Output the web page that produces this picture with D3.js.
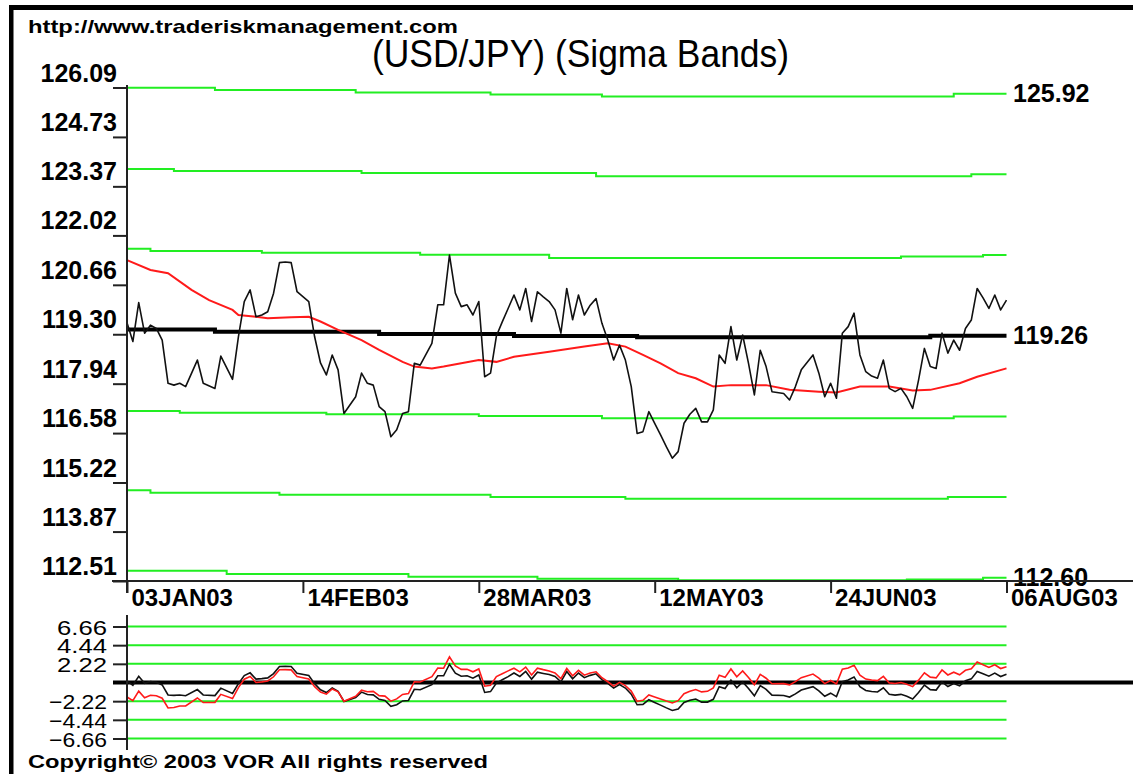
<!DOCTYPE html>
<html lang="en">
<head>
<meta charset="UTF-8" />
<title>(USD/JPY) (Sigma Bands)</title>
<script src="https://cdn.jsdelivr.net/npm/d3@7"></script>
<style>
  body { margin: 0; background: #fff; }
  svg { display: block; font-family: "Liberation Sans", Arial, sans-serif; }
</style>
</head>
<body>
<svg id="chart" width="1133" height="774"></svg>
<script>
// ---- data (x = trading day since 03JAN03) ----
const xLabels = ["03JAN03", "14FEB03", "28MAR03", "12MAY03", "24JUN03", "06AUG03"];
const xTickDays = [0, 30, 60, 90, 120, 150];
const yTicks = [112.51, 113.87, 115.22, 116.58, 117.94, 119.30, 120.66, 122.02, 123.37, 124.73, 126.09];
const oscTicks = [6.66, 4.44, 2.22, -2.22, -4.44, -6.66];

const days = [
  0, 1, 2, 3, 4, 5, 6, 7, 8, 9,
  10, 12, 13, 15, 16, 18, 19, 20, 21, 22,
  23, 24, 25, 26, 27, 28, 29, 31, 32, 33,
  34, 35, 36, 37, 39, 40, 41, 42, 43, 44,
  45, 46, 47, 48, 49, 50, 52, 53, 54, 55,
  56, 57, 58, 59, 60, 61, 62, 63, 64, 65,
  66, 67, 68, 69, 70, 71, 72, 73, 74, 75,
  76, 77, 78, 79, 80, 81, 82, 83, 84, 85,
  86, 87, 88, 89, 90, 91, 92, 93, 94, 95,
  96, 97, 98, 99, 100, 101, 102, 103, 104, 105,
  106, 107, 108, 109, 110, 112, 113, 114, 115, 117,
  118, 119, 120, 121, 122, 123, 124, 125, 126, 127,
  128, 129, 130, 131, 132, 133, 134, 135, 136, 137,
  138, 139, 140, 141, 142, 143, 144, 145, 146, 147,
  148, 149, 150
];

const price = [
  119.62, 119.10, 120.17, 119.33, 119.55, 119.46, 119.14, 117.95, 117.90, 117.95,
  117.86, 118.59, 117.95, 117.81, 118.70, 118.06, 119.23, 120.20, 120.52, 119.78,
  119.83, 119.92, 120.43, 121.27, 121.29, 121.27, 120.47, 120.20, 119.23, 118.51,
  118.18, 118.73, 118.32, 117.12, 117.58, 118.23, 117.95, 117.90, 117.31, 117.17,
  116.48, 116.67, 117.12, 117.17, 118.50, 118.45, 119.05, 120.11, 120.11, 121.48,
  120.43, 120.06, 120.11, 119.83, 120.20, 118.13, 118.23, 119.25, 119.64, 120.01,
  120.38, 119.97, 120.56, 119.65, 120.47, 120.33, 120.20, 119.97, 119.33, 120.56,
  119.70, 120.38, 119.83, 120.10, 120.28, 119.60, 119.14, 118.59, 119.00, 118.59,
  117.86, 116.57, 116.62, 117.17, 116.85, 116.53, 116.20, 115.89, 116.07, 116.85,
  117.10, 117.26, 116.89, 116.89, 117.22, 118.73, 118.50, 119.51, 118.59, 119.28,
  118.50, 117.63, 118.86, 118.41, 117.72, 117.67, 117.49, 117.86, 118.32, 118.73,
  118.23, 117.58, 117.95, 117.54, 119.33, 119.51, 119.88, 118.73, 118.27, 118.15,
  118.09, 118.59, 117.81, 117.72, 117.81, 117.58, 117.26, 118.04, 118.91, 118.41,
  118.36, 119.33, 118.78, 119.14, 118.86, 119.46, 119.69, 120.56, 120.30, 120.01,
  120.38, 119.97, 120.24
];

// lower panel: distance from the mean line and from the red average
const oscMean = [
  0.19, -0.33, 0.74, -0.10, 0.12, 0.03, -0.29, -1.48, -1.53, -1.48,
  -1.57, -0.84, -1.48, -1.56, -0.67, -1.31, -0.14, 0.83, 1.15, 0.41,
  0.46, 0.55, 1.06, 1.90, 1.92, 1.90, 1.10, 0.83, -0.14, -0.86,
  -1.19, -0.64, -1.05, -2.25, -1.79, -1.14, -1.42, -1.47, -2.00, -2.14,
  -2.83, -2.64, -2.19, -2.14, -0.81, -0.86, -0.26, 0.80, 0.80, 2.17,
  1.12, 0.75, 0.80, 0.52, 0.89, -1.18, -1.08, -0.06, 0.33, 0.70,
  1.13, 0.72, 1.31, 0.40, 1.22, 1.08, 0.95, 0.72, 0.08, 1.31,
  0.45, 1.13, 0.58, 0.85, 1.03, 0.35, -0.11, -0.66, -0.25, -0.66,
  -1.39, -2.65, -2.60, -2.05, -2.37, -2.69, -3.02, -3.33, -3.15, -2.37,
  -2.12, -1.96, -2.33, -2.33, -2.00, -0.49, -0.72, 0.29, -0.63, 0.06,
  -0.72, -1.59, -0.36, -0.81, -1.50, -1.55, -1.73, -1.36, -0.90, -0.49,
  -0.99, -1.64, -1.27, -1.68, 0.11, 0.29, 0.66, -0.49, -0.95, -1.07,
  -1.13, -0.63, -1.41, -1.50, -1.41, -1.64, -1.96, -1.18, -0.31, -0.85,
  -0.90, 0.07, -0.48, -0.12, -0.40, 0.20, 0.43, 1.30, 1.04, 0.75,
  1.12, 0.71, 0.98
];

const oscAvg = [
  -1.72, -2.17, -1.03, -1.81, -1.52, -1.58, -1.87, -3.03, -2.97, -2.80,
  -2.78, -1.84, -2.38, -2.36, -1.41, -1.91, -0.60, 0.39, 0.72, 0.00,
  0.07, 0.18, 0.68, 1.52, 1.53, 1.50, 0.70, 0.42, -0.49, -1.14,
  -1.39, -0.77, -1.10, -2.23, -1.63, -0.91, -1.10, -1.06, -1.56, -1.62,
  -2.22, -1.95, -1.42, -1.31, 0.09, 0.06, 0.69, 1.72, 1.70, 3.04,
  1.96, 1.56, 1.58, 1.27, 1.61, -0.44, -0.33, 0.71, 1.05, 1.38,
  1.70, 1.27, 1.83, 0.90, 1.70, 1.53, 1.38, 1.13, 0.46, 1.67,
  0.79, 1.44, 0.87, 1.12, 1.27, 0.57, 0.09, -0.43, 0.01, -0.37,
  -1.02, -2.24, -2.11, -1.48, -1.73, -1.97, -2.21, -2.43, -2.16, -1.33,
  -1.04, -0.83, -1.12, -1.05, -0.64, 0.86, 0.61, 1.61, 0.69, 1.38,
  0.60, -0.27, 0.96, 0.51, -0.15, -0.13, -0.28, 0.10, 0.57, 1.00,
  0.51, -0.13, 0.24, -0.16, 1.59, 1.73, 2.06, 0.87, 0.41, 0.29,
  0.23, 0.73, -0.05, -0.11, 0.00, -0.20, -0.49, 0.28, 1.15, 0.64,
  0.55, 1.49, 0.90, 1.23, 0.91, 1.45, 1.62, 2.43, 2.12, 1.79,
  2.11, 1.66, 1.88
];

// red moving average
const maDays = [0, 4, 7, 11, 14, 18, 19, 22, 24, 28, 31, 33, 36, 40, 43, 47, 49, 52, 54, 57,
  60, 63, 66, 72, 78, 82, 85, 88, 91, 94, 97, 100, 103, 109, 113, 118, 121, 125, 130, 134,
  137, 142, 145, 150];
const maVals = [121.34, 121.07, 120.98, 120.52, 120.24, 119.97, 119.83, 119.78, 119.74, 119.77,
  119.78, 119.65, 119.42, 119.14, 118.87, 118.54, 118.41, 118.36, 118.41, 118.50,
  118.59, 118.54, 118.68, 118.82, 118.96, 119.05, 118.96, 118.73, 118.50, 118.23,
  118.09, 117.86, 117.90, 117.90, 117.77, 117.72, 117.70, 117.86, 117.86, 117.75,
  117.77, 117.95, 118.13, 118.36];

// mean line and sigma bands as [day, value] steps
const meanLine = [[0, 119.43], [15, 119.37], [43, 119.31], [66, 119.25], [87, 119.22], [137, 119.26], [150, 119.26]];
const bandPlus3 = [[0, 126.08], [15, 126.02], [39, 125.95], [62, 125.90], [81, 125.84], [141, 125.92], [150, 125.92]];
const bandPlus2 = [[0, 123.85], [8, 123.79], [40, 123.74], [80, 123.65], [144, 123.70], [150, 123.70]];
const bandPlus1 = [[0, 121.65], [4, 121.59], [23, 121.54], [50, 121.49], [72, 121.40], [132, 121.44], [146, 121.48], [150, 121.48]];
const bandMinus1 = [[0, 117.19], [9, 117.14], [34, 117.10], [60, 117.05], [81, 116.99], [141, 117.04], [150, 117.04]];
const bandMinus2 = [[0, 115.01], [4, 114.94], [26, 114.88], [62, 114.82], [85, 114.77], [140, 114.82], [150, 114.82]];
const bandMinus3 = [[0, 112.79], [17, 112.70], [48, 112.63], [70, 112.57], [94, 112.53], [133, 112.55], [146, 112.60], [150, 112.60]];

// ---- drawing ----
const svg = d3.select("#chart");
const font = '"Liberation Sans", Arial, sans-serif';

svg.append("rect").attr("width", 1133).attr("height", 774).attr("fill", "#fff");

const x = d3.scaleLinear().domain([0, 150]).range([127, 1006.5]);
const y = d3.scaleLinear().domain([112.51, 126.09]).range([581, 87.5]);
const yo = d3.scaleLinear().domain([-6.66, 6.66]).range([738.5, 626.5]);

// frame
svg.append("rect").attr("x", 9).attr("y", 5).attr("width", 1124).attr("height", 5).attr("fill", "#000");
svg.append("rect").attr("x", 9).attr("y", 5).attr("width", 4.5).attr("height", 769).attr("fill", "#000");

// texts on top and bottom
svg.append("text").attr("x", 28).attr("y", 33)
  .attr("font-size", 19).attr("font-weight", "bold")
  .attr("textLength", 430).attr("lengthAdjust", "spacingAndGlyphs")
  .text("http://www.traderiskmanagement.com");

svg.append("text").attr("x", 372).attr("y", 67)
  .attr("font-size", 38)
  .attr("textLength", 417).attr("lengthAdjust", "spacingAndGlyphs")
  .text("(USD/JPY) (Sigma Bands)");

svg.append("text").attr("x", 28).attr("y", 768)
  .attr("font-size", 19).attr("font-weight", "bold")
  .attr("textLength", 460).attr("lengthAdjust", "spacingAndGlyphs")
  .text("Copyright© 2003 VOR All rights reserved");

// sigma bands
const step = d3.line().x(d => x(d[0])).y(d => y(d[1])).curve(d3.curveStepAfter);
const bands = [bandPlus3, bandPlus2, bandPlus1, bandMinus1, bandMinus2, bandMinus3];
svg.append("g").selectAll("path")
  .data(bands)
  .join("path")
  .attr("d", step)
  .attr("fill", "none")
  .attr("stroke", "#22ee22")
  .attr("stroke-width", 2);

// mean line
svg.append("path").attr("d", step(meanLine))
  .attr("fill", "none").attr("stroke", "#000").attr("stroke-width", 4);

// red average
const maLine = d3.line().x((d, i) => x(maDays[i])).y(d => y(d));
svg.append("path").attr("d", maLine(maVals))
  .attr("fill", "none").attr("stroke", "#ff1a1a").attr("stroke-width", 2);

// price
const priceLine = d3.line().x((d, i) => x(days[i])).y(d => y(d));
svg.append("path").attr("d", priceLine(price))
  .attr("fill", "none").attr("stroke", "#111").attr("stroke-width", 1.6)
  .attr("stroke-linejoin", "round");

// right side labels
const ends = [bandPlus3, meanLine, bandMinus3];
svg.append("g").selectAll("text")
  .data(ends)
  .join("text")
  .attr("x", 1013)
  .attr("y", d => y(d[d.length - 1][1]) + 8.5)
  .attr("font-size", 25).attr("font-weight", "bold")
  .text(d => d[d.length - 1][1].toFixed(2));

// main y axis
svg.append("g")
  .attr("transform", "translate(127,0)")
  .call(d3.axisLeft(y).tickValues(yTicks).tickSize(14).tickFormat(d3.format(".2f")))
  .call(g => g.select(".domain").remove())
  .call(g => g.selectAll("line").attr("stroke", "#222").attr("stroke-width", 2))
  .call(g => g.selectAll("text")
    .attr("x", -10).attr("y", -6.5).attr("dy", 0)
    .attr("fill", "#000")
    .attr("font-family", font).attr("font-size", 25).attr("font-weight", "bold"));
svg.append("line").attr("x1", 127).attr("x2", 127).attr("y1", 85).attr("y2", 593)
  .attr("stroke", "#222").attr("stroke-width", 2);

// x axis
svg.append("g")
  .attr("transform", "translate(0,581)")
  .call(d3.axisBottom(x).tickValues(xTickDays).tickSize(12).tickFormat((d, i) => xLabels[i]))
  .call(g => g.select(".domain").remove())
  .call(g => g.selectAll("line").attr("stroke", "#222").attr("stroke-width", 2))
  .call(g => g.selectAll("text")
    .attr("text-anchor", "start").attr("x", 4).attr("y", 25).attr("dy", 0)
    .attr("fill", "#000")
    .attr("font-family", font).attr("font-size", 24).attr("font-weight", "bold"));
svg.append("line").attr("x1", 112).attr("x2", 1133).attr("y1", 581).attr("y2", 581)
  .attr("stroke", "#222").attr("stroke-width", 2);

// ---- lower panel ----
svg.append("g").selectAll("line")
  .data(oscTicks)
  .join("line")
  .attr("x1", x(0)).attr("x2", x(150))
  .attr("y1", d => yo(d)).attr("y2", d => yo(d))
  .attr("stroke", "#22ee22").attr("stroke-width", 2);

svg.append("line").attr("x1", 113).attr("x2", 1133).attr("y1", yo(0)).attr("y2", yo(0))
  .attr("stroke", "#000").attr("stroke-width", 4);

const oscLine = d3.line().x((d, i) => x(days[i])).y(d => yo(d));
svg.append("path").attr("d", oscLine(oscMean))
  .attr("fill", "none").attr("stroke", "#111").attr("stroke-width", 1.6);
svg.append("path").attr("d", oscLine(oscAvg))
  .attr("fill", "none").attr("stroke", "#ff1a1a").attr("stroke-width", 1.6);

svg.append("g")
  .attr("transform", "translate(127,0)")
  .call(d3.axisLeft(yo).tickValues(oscTicks).tickSize(14).tickFormat(d3.format(".2f")))
  .call(g => g.select(".domain").remove())
  .call(g => g.selectAll("line").attr("stroke", "#222").attr("stroke-width", 2))
  .call(g => g.selectAll("text")
    .attr("x", -20).attr("dy", "0.36em")
    .attr("fill", "#000")
    .attr("font-family", font).attr("font-size", 21)
    .attr("textLength", d => d < 0 ? 58 : 50).attr("lengthAdjust", "spacingAndGlyphs"));
svg.append("line").attr("x1", 127).attr("x2", 127).attr("y1", 615).attr("y2", 750)
  .attr("stroke", "#222").attr("stroke-width", 2);
</script>
</body>
</html>
